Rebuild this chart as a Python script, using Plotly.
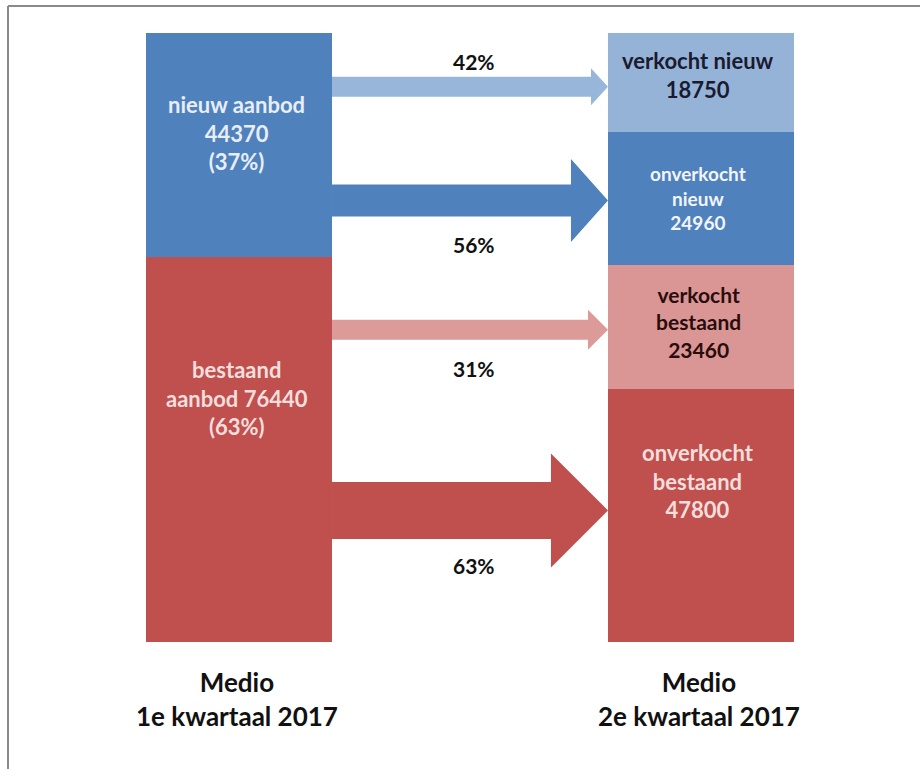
import plotly.graph_objects as go

# ---------------- data ----------------
periods = ["Medio<br>1e kwartaal 2017", "Medio<br>2e kwartaal 2017"]
left_names = ["nieuw aanbod", "bestaand aanbod"]
left_values = [44370, 76440]
right_names = ["verkocht nieuw", "onverkocht nieuw", "verkocht bestaand", "onverkocht bestaand"]
right_values = [18750, 24960, 23460, 47800]
# each right segment comes from this left segment
right_source = [0, 0, 1, 1]

# ---------------- styles ----------------
FONT = "Lato"
BLUE, LBLUE, RED, PINK = "#4f81bd", "#95b3d7", "#c0504d", "#d99694"
left_colors = [BLUE, RED]
right_colors = [LBLUE, BLUE, PINK, RED]
arrow_colors = ["#98b6d9", BLUE, "#dc9a98", RED]
left_text_colors = ["#e8eef7", "#f4dedd"]
right_text_colors = ["#1a1a30", "#f2f5fa", "#2a0c0c", "#f4dedd"]
left_text_shift = [12, 51]
right_text_shift = [8, 0, 5, 34]
left_sizes = [22, 22]
right_sizes = [22, 19, 21, 22]
arrow_shaft = [20, 32, 20, 57]
arrow_head_h = [37, 83, 40, 114]
arrow_head_len = [17, 37, 20, 57]
arrow_shift = [-4, -2, -3, 5]
pct_shift = [25, -44, -39, -55]

W, H = 920, 769
ML, MR, MT, MB = 54, 34, 33, 127
XR = [-0.4, 1.4]
BW = 0.403
X_PX = (W - ML - MR) / (XR[1] - XR[0])
Y_PX = (H - MT - MB) / 100.0

fig = go.Figure()

# stacking order: bottom first
left_order = [1, 0]
right_order = [3, 2, 1, 0]
for i in left_order:
    fig.add_trace(go.Bar(x=[0], y=[left_values[i]], name=left_names[i], width=BW,
                         marker=dict(color=left_colors[i], line=dict(width=0)),
                         hoverinfo="name+y"))
for i in right_order:
    fig.add_trace(go.Bar(x=[1], y=[right_values[i]], name=right_names[i], width=BW,
                         marker=dict(color=right_colors[i], line=dict(width=0)),
                         hoverinfo="name+y"))

left_total = sum(left_values)
right_total = sum(right_values)

def centers(values, order, total):
    c = {}
    base = 0.0
    for i in order:
        p = values[i] / total * 100
        c[i] = base + p / 2
        base += p
    return c

lc = centers(left_values, left_order, left_total)
rc = centers(right_values, right_order, right_total)

annotations = []
left_pcts = [round(v / left_total * 100) for v in left_values]
left_texts = [
    f"{left_names[0]}<br>{left_values[0]}<br>({left_pcts[0]}%)",
    f"bestaand<br>aanbod {left_values[1]}<br>({left_pcts[1]}%)",
]
for i in range(2):
    annotations.append(dict(x=0, y=lc[i], xref="x", yref="y", text=f"<b>{left_texts[i]}</b>",
                            showarrow=False, yshift=left_text_shift[i], xshift=-2,
                            font=dict(family=FONT, size=left_sizes[i], color=left_text_colors[i])))

right_texts = [
    f"verkocht nieuw<br>{right_values[0]}",
    f"onverkocht<br>nieuw<br>{right_values[1]}",
    f"verkocht<br>bestaand<br>{right_values[2]}",
    f"onverkocht<br>bestaand<br>{right_values[3]}",
]
for i in range(4):
    annotations.append(dict(x=1, y=rc[i], xref="x", yref="y", text=f"<b>{right_texts[i]}</b>",
                            showarrow=False, yshift=right_text_shift[i], xshift=-3,
                            font=dict(family=FONT, size=right_sizes[i], color=right_text_colors[i])))

# arrows + flow percentages
shapes = []
x0 = 0 + BW / 2
xt = 1 - BW / 2
for i in range(4):
    yc = rc[i] + arrow_shift[i] / Y_PX
    ds = arrow_shaft[i] / 2 / Y_PX
    dh = arrow_head_h[i] / 2 / Y_PX
    xb = xt - arrow_head_len[i] / X_PX
    path = (f"M {x0},{yc+ds} L {xb},{yc+ds} L {xb},{yc+dh} L {xt},{yc} "
            f"L {xb},{yc-dh} L {xb},{yc-ds} L {x0},{yc-ds} Z")
    shapes.append(dict(type="path", path=path, xref="x", yref="y",
                       fillcolor=arrow_colors[i], line=dict(width=0), layer="above"))
    pct = round(right_values[i] / left_values[right_source[i]] * 100)
    annotations.append(dict(x=(x0 + xt) / 2, y=yc, xref="x", yref="y", text=f"<b>{pct}%</b>",
                            showarrow=False, yshift=pct_shift[i], xshift=4,
                            font=dict(family=FONT, size=21, color="#111111")))

# period labels below bars
for j, lab in enumerate(periods):
    annotations.append(dict(x=j, y=0, xref="x", yref="y", text=f"<b>{lab}</b>",
                            showarrow=False, yanchor="top", yshift=-22, xshift=-2,
                            font=dict(family=FONT, size=26, color="#111111")))

# frame lines (left and top)
fx = (8 - ML) / (W - ML - MR)
fy = (H - MB - 6) / (H - MT - MB)
shapes.append(dict(type="line", xref="paper", yref="paper", x0=fx, x1=fx, y0=-0.3, y1=fy,
                   line=dict(color="#8a8a8a", width=2)))
shapes.append(dict(type="line", xref="paper", yref="paper", x0=fx, x1=1.2, y0=fy, y1=fy,
                   line=dict(color="#8a8a8a", width=2)))

fig.update_layout(
    width=W, height=H,
    margin=dict(l=ML, r=MR, t=MT, b=MB),
    barmode="stack", barnorm="percent",
    showlegend=False,
    plot_bgcolor="white", paper_bgcolor="white",
    xaxis=dict(range=XR, visible=False, fixedrange=True),
    yaxis=dict(range=[0, 100], visible=False, fixedrange=True),
    shapes=shapes,
    annotations=annotations,
)

fig.write_html("out.html", config={"displayModeBar": False},
               post_script="document.body.style.margin='0';")
